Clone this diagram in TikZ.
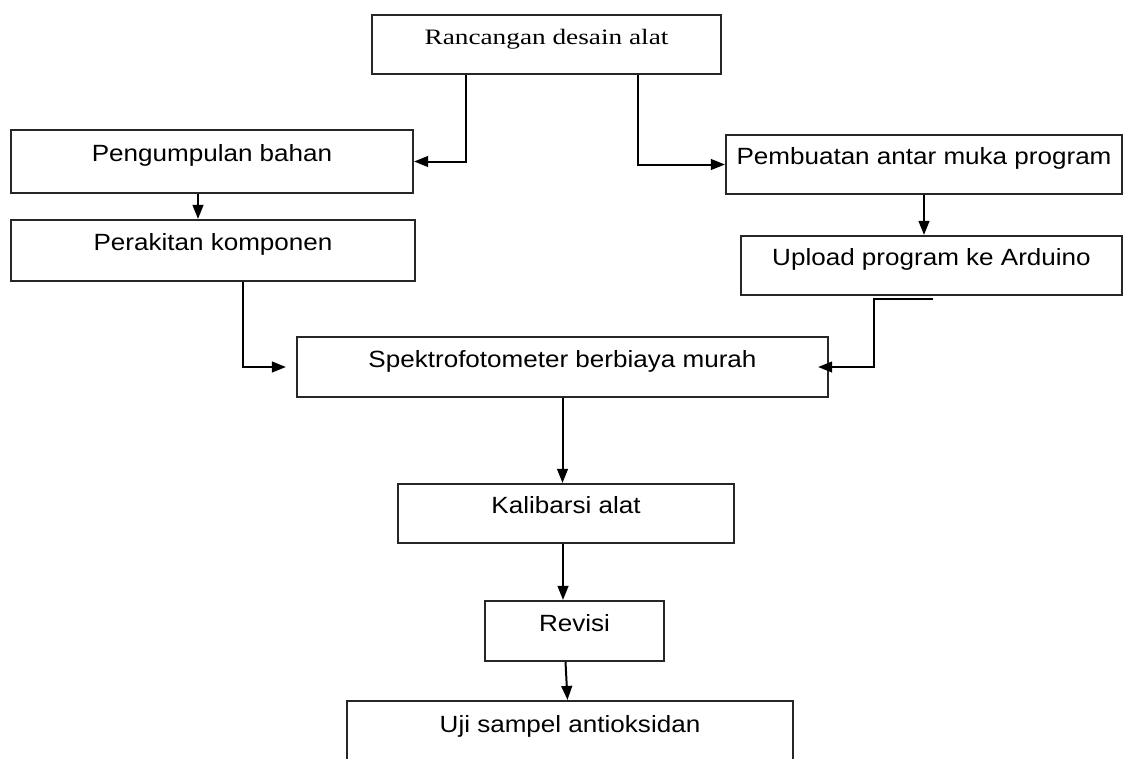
\documentclass[tikz,border=0pt]{standalone}
\usepackage{fontspec}
\setmainfont{Liberation Sans}[FakeStretch=1.11]
\newfontfamily\rmbox{Liberation Serif}[FakeStretch=1.24]
\usepackage{tikz}
\usetikzlibrary{arrows.meta,positioning,calc}
\definecolor{inkd}{HTML}{262626}
\newcommand{\pxu}{0.75pt}
\tikzset{
  box/.style={rectangle, draw=inkd, fill=white, line width=1.6pt, align=center,
              inner sep=0pt, text height=6pt, text depth=6pt,
              font=\fontsize{17.6}{20}\selectfont},
  boxrm/.style={box, font=\rmbox\fontsize{16.5}{19}\selectfont},
  fl/.style={-{Triangle[length=10.5pt,width=8pt]}, line width=1.5pt, draw=black},
}

\begin{document}
\begin{tikzpicture}[x=\pxu, y=-\pxu]
  \useasboundingbox (0,0) rectangle (1124,758);
  % boxes
  \node[boxrm, minimum width=349*\pxu, minimum height=59*\pxu] (desain) at (546.5,44.5) {Rancangan desain alat};
  \node[box, minimum width=402*\pxu, minimum height=63*\pxu] (bahan) at (212,161.5) {Pengumpulan bahan};
  \node[box, minimum width=404*\pxu, minimum height=61*\pxu] (rakit) at (213,250.5) {Perakitan komponen};
  \node[box, minimum width=396*\pxu, minimum height=59*\pxu] (muka) at (924,164.5) {Pembuatan antar muka program};
  \node[box, minimum width=381*\pxu, minimum height=59*\pxu] (upload) at (931.5,265.5) {Upload program ke Arduino};
  \node[box, minimum width=531*\pxu, minimum height=60*\pxu] (spektro) at (562.5,367) {Spektrofotometer berbiaya murah};
  \node[box, minimum width=336*\pxu, minimum height=59*\pxu] (kalib) at (566,513.5) {Kalibarsi alat};
  \node[box, minimum width=179*\pxu, minimum height=60*\pxu] (revisi) at (574.5,631) {Revisi};
  \node[box, minimum width=446*\pxu, minimum height=62*\pxu] (uji) at (570,732) {Uji sampel antioksidan};
  \coordinate (uplout) at ([xshift=1.5*\pxu, yshift=-3*\pxu]upload.south);
  % connectors
  \draw[fl] ([xshift=-80.5*\pxu]desain.south) |- (bahan.east);
  \draw[fl] ([xshift=91.5*\pxu]desain.south) |- (muka.west);
  \draw[fl] ([xshift=-14*\pxu]bahan.south) -- ([xshift=-15*\pxu]rakit.north);
  \draw[fl] ([xshift=30*\pxu]rakit.south) |- ([xshift=-10*\pxu]spektro.west);
  \draw[fl] (muka.south) -- (muka.south |- upload.north);
  \draw[fl] (uplout) -- ++(-59,0) |- ([xshift=-11*\pxu]spektro.east);
  \draw[fl] (spektro.south) -- (spektro.south |- kalib.north);
  \draw[fl] ([xshift=-3*\pxu]kalib.south) -- ([xshift=-3*\pxu]kalib.south |- revisi.north);
  \draw[fl] ([xshift=-9*\pxu]revisi.south) -- ([xshift=-7*\pxu]revisi.south |- uji.north);
\end{tikzpicture}
\end{document}
